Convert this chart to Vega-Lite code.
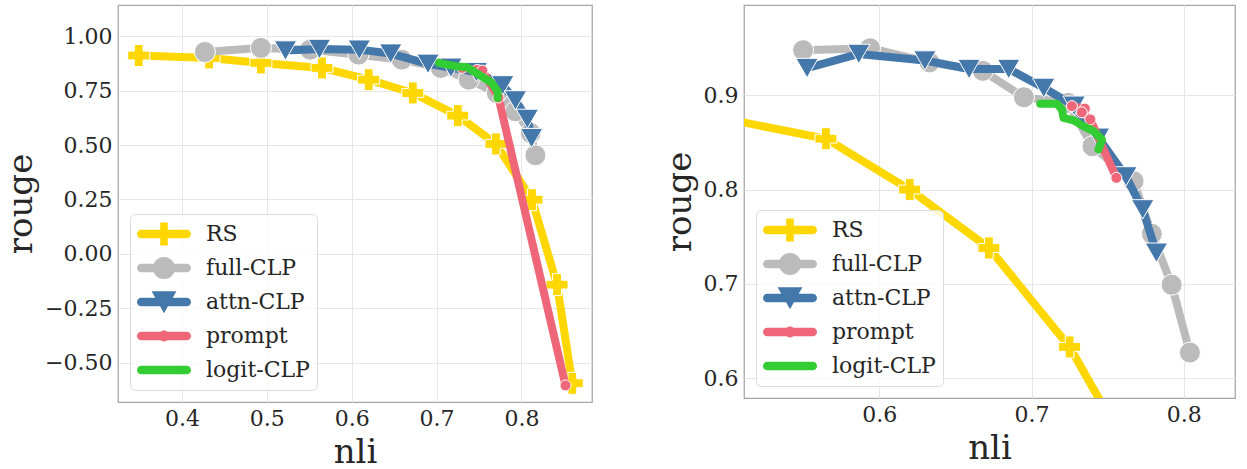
{
  "$schema": "https://vega.github.io/schema/vega-lite/v6.json",
  "padding": {"left": 3, "top": 4, "right": 5, "bottom": 0},
  "spacing": 69,
  "config": {
    "font": "DejaVu Serif",
    "view": {"stroke": "#a6a6a6", "strokeWidth": 1.25},
    "axis": {"grid": true, "gridColor": "#e6e6e6", "gridWidth": 1, "domain": false, "ticks": false, "labelFont": "DejaVu Serif", "labelFontSize": 22, "labelColor": "#262626", "titleFont": "DejaVu Serif", "titleFontSize": 34, "titleFontWeight": "normal", "titleColor": "#262626", "labelPadding": 6, "titlePadding": 6},
    "legend": {"labelFont": "DejaVu Serif", "labelFontSize": 22, "labelColor": "#262626", "padding": 7, "rowPadding": 8, "clipHeight": 26, "symbolSize": 2916, "labelOffset": 15, "fillColor": "rgba(255,255,255,0.8)", "strokeColor": "#dcdcdc", "cornerRadius": 5, "orient": "bottom-left", "offset": 12, "symbolStrokeWidth": 0}
  },
  "resolve": {"scale": {"color": "independent"}, "legend": {"color": "independent"}},
  "hconcat": [
    {
      "width": 474,
      "height": 397,
      "data": {"values": [
        {"series": "RS", "i": 1, "nli": 0.349, "rouge": 0.911},
        {"series": "RS", "i": 2, "nli": 0.432, "rouge": 0.900},
        {"series": "RS", "i": 3, "nli": 0.493, "rouge": 0.877},
        {"series": "RS", "i": 4, "nli": 0.565, "rouge": 0.854},
        {"series": "RS", "i": 5, "nli": 0.620, "rouge": 0.800},
        {"series": "RS", "i": 6, "nli": 0.672, "rouge": 0.739},
        {"series": "RS", "i": 7, "nli": 0.725, "rouge": 0.635},
        {"series": "RS", "i": 8, "nli": 0.770, "rouge": 0.505},
        {"series": "RS", "i": 9, "nli": 0.8125, "rouge": 0.249},
        {"series": "RS", "i": 10, "nli": 0.842, "rouge": -0.141},
        {"series": "RS", "i": 11, "nli": 0.860, "rouge": -0.594},
        {"series": "full-CLP", "i": 1, "nli": 0.427, "rouge": 0.927},
        {"series": "full-CLP", "i": 2, "nli": 0.493, "rouge": 0.946},
        {"series": "full-CLP", "i": 3, "nli": 0.551, "rouge": 0.938},
        {"series": "full-CLP", "i": 4, "nli": 0.608, "rouge": 0.915},
        {"series": "full-CLP", "i": 5, "nli": 0.659, "rouge": 0.892},
        {"series": "full-CLP", "i": 6, "nli": 0.705, "rouge": 0.854},
        {"series": "full-CLP", "i": 7, "nli": 0.738, "rouge": 0.800},
        {"series": "full-CLP", "i": 8, "nli": 0.771, "rouge": 0.739},
        {"series": "full-CLP", "i": 9, "nli": 0.793, "rouge": 0.655},
        {"series": "full-CLP", "i": 10, "nli": 0.811, "rouge": 0.555},
        {"series": "full-CLP", "i": 11, "nli": 0.8165, "rouge": 0.453},
        {"series": "attn-CLP", "i": 1, "nli": 0.522, "rouge": 0.934},
        {"series": "attn-CLP", "i": 2, "nli": 0.562, "rouge": 0.941},
        {"series": "attn-CLP", "i": 3, "nli": 0.609, "rouge": 0.938},
        {"series": "attn-CLP", "i": 4, "nli": 0.646, "rouge": 0.920},
        {"series": "attn-CLP", "i": 5, "nli": 0.690, "rouge": 0.873},
        {"series": "attn-CLP", "i": 6, "nli": 0.717, "rouge": 0.855},
        {"series": "attn-CLP", "i": 7, "nli": 0.747, "rouge": 0.835},
        {"series": "attn-CLP", "i": 8, "nli": 0.778, "rouge": 0.774},
        {"series": "attn-CLP", "i": 9, "nli": 0.793, "rouge": 0.705},
        {"series": "attn-CLP", "i": 10, "nli": 0.807, "rouge": 0.620},
        {"series": "attn-CLP", "i": 11, "nli": 0.812, "rouge": 0.532},
        {"series": "prompt", "i": 1, "nli": 0.730, "rouge": 0.854},
        {"series": "prompt", "i": 2, "nli": 0.748, "rouge": 0.845},
        {"series": "prompt", "i": 3, "nli": 0.754, "rouge": 0.842},
        {"series": "prompt", "i": 4, "nli": 0.773, "rouge": 0.718},
        {"series": "prompt", "i": 5, "nli": 0.852, "rouge": -0.604},
        {"series": "logit-CLP", "i": 1, "nli": 0.703, "rouge": 0.877},
        {"series": "logit-CLP", "i": 2, "nli": 0.714, "rouge": 0.868},
        {"series": "logit-CLP", "i": 3, "nli": 0.722, "rouge": 0.862},
        {"series": "logit-CLP", "i": 4, "nli": 0.736, "rouge": 0.857},
        {"series": "logit-CLP", "i": 5, "nli": 0.750, "rouge": 0.823},
        {"series": "logit-CLP", "i": 6, "nli": 0.765, "rouge": 0.785},
        {"series": "logit-CLP", "i": 7, "nli": 0.772, "rouge": 0.747},
        {"series": "logit-CLP", "i": 8, "nli": 0.772, "rouge": 0.716}
      ]},
      "encoding": {
        "x": {"field": "nli", "type": "quantitative", "scale": {"domain": [0.3246, 0.8832], "nice": false, "zero": false}, "axis": {"values": [0.4, 0.5, 0.6, 0.7, 0.8], "format": ".1f", "title": "nli"}},
        "y": {"field": "rouge", "type": "quantitative", "scale": {"domain": [-0.68, 1.143], "nice": false, "zero": false}, "axis": {"values": [-0.5, -0.25, 0, 0.25, 0.5, 0.75, 1], "format": ".2f", "title": "rouge"}},
        "color": {"field": "series", "type": "nominal", "scale": {"domain": ["RS", "full-CLP", "attn-CLP", "prompt", "logit-CLP"], "range": ["#FFD700", "#BBBBBB", "#4477AA", "#EE6677", "#32CD32"]}, "legend": null},
        "order": {"field": "i", "type": "quantitative"}
      },
      "layer": [
        {"transform": [{"filter": "datum.series === 'RS'"}], "mark": {"type": "line", "strokeWidth": 8, "strokeCap": "round", "strokeJoin": "round", "clip": true},
         "encoding": {"color": {"field": "series", "type": "nominal", "scale": {"domain": ["RS", "full-CLP", "attn-CLP", "prompt", "logit-CLP"], "range": ["#FFD700", "#BBBBBB", "#4477AA", "#EE6677", "#32CD32"]},
           "legend": {"title": null, "encode": {"symbols": {"update": {
             "shape": {"signal": "datum.value === 'RS' ? 'M-0.84,-0.16H0.84A0.16,0.16 0 0,1 0.84,0.16H-0.84A0.16,0.16 0 0,1 -0.84,-0.16Z M-0.14,-0.43H0.14V-0.14H0.43V0.14H0.14V0.43H-0.14V0.14H-0.43V-0.14H-0.14Z' : datum.value === 'full-CLP' ? 'M-0.84,-0.16H0.84A0.16,0.16 0 0,1 0.84,0.16H-0.84A0.16,0.16 0 0,1 -0.84,-0.16Z M-0.41,0A0.41,0.41 0 1,1 0.41,0A0.41,0.41 0 1,1 -0.41,0Z' : datum.value === 'attn-CLP' ? 'M-0.84,-0.16H0.84A0.16,0.16 0 0,1 0.84,0.16H-0.84A0.16,0.16 0 0,1 -0.84,-0.16Z M-0.46,-0.4H0.46L0,0.42Z' : datum.value === 'prompt' ? 'M-0.84,-0.16H0.84A0.16,0.16 0 0,1 0.84,0.16H-0.84A0.16,0.16 0 0,1 -0.84,-0.16Z M-0.2,0A0.2,0.2 0 1,1 0.2,0A0.2,0.2 0 1,1 -0.2,0Z' : 'M-0.84,-0.16H0.84A0.16,0.16 0 0,1 0.84,0.16H-0.84A0.16,0.16 0 0,1 -0.84,-0.16Z'"},
             "fill": {"signal": "datum.value === 'RS' ? '#FFD700' : datum.value === 'full-CLP' ? '#BBBBBB' : datum.value === 'attn-CLP' ? '#4477AA' : datum.value === 'prompt' ? '#EE6677' : '#32CD32'"},
             "fillOpacity": {"value": 1},
             "opacity": {"value": 1},
             "stroke": {"value": "transparent"},
             "strokeWidth": {"value": 0}
           }}}}}}},
        {"transform": [{"filter": "datum.series === 'RS'"}], "mark": {"type": "point", "shape": "cross", "size": 484, "filled": true, "opacity": 1, "stroke": "white", "strokeWidth": 1, "clip": true}},
        {"transform": [{"filter": "datum.series === 'full-CLP'"}], "mark": {"type": "line", "strokeWidth": 8, "strokeCap": "round", "strokeJoin": "round", "clip": true}},
        {"transform": [{"filter": "datum.series === 'full-CLP'"}], "mark": {"type": "point", "shape": "circle", "size": 441, "filled": true, "opacity": 1, "stroke": "white", "strokeWidth": 1, "clip": true}},
        {"transform": [{"filter": "datum.series === 'attn-CLP'"}], "mark": {"type": "line", "strokeWidth": 8, "strokeCap": "round", "strokeJoin": "round", "clip": true}},
        {"transform": [{"filter": "datum.series === 'attn-CLP'"}], "mark": {"type": "point", "shape": "triangle-down", "size": 500, "filled": true, "opacity": 1, "stroke": "white", "strokeWidth": 1, "clip": true}},
        {"transform": [{"filter": "datum.series === 'prompt'"}], "mark": {"type": "line", "strokeWidth": 8, "strokeCap": "round", "strokeJoin": "round", "clip": true}},
        {"transform": [{"filter": "datum.series === 'prompt'"}], "mark": {"type": "point", "shape": "circle", "size": 121, "filled": true, "opacity": 1, "stroke": "white", "strokeWidth": 1, "clip": true}},
        {"transform": [{"filter": "datum.series === 'logit-CLP'"}], "mark": {"type": "line", "strokeWidth": 8, "strokeCap": "round", "strokeJoin": "round", "clip": true}}
      ]
    },
    {
      "width": 491,
      "height": 393,
      "data": {"values": [
        {"series": "RS", "i": 3, "nli": 0.493, "rouge": 0.877},
        {"series": "RS", "i": 4, "nli": 0.565, "rouge": 0.854},
        {"series": "RS", "i": 5, "nli": 0.620, "rouge": 0.800},
        {"series": "RS", "i": 6, "nli": 0.672, "rouge": 0.738},
        {"series": "RS", "i": 7, "nli": 0.725, "rouge": 0.633},
        {"series": "RS", "i": 8, "nli": 0.770, "rouge": 0.505},
        {"series": "full-CLP", "i": 1, "nli": 0.550, "rouge": 0.948},
        {"series": "full-CLP", "i": 2, "nli": 0.594, "rouge": 0.950},
        {"series": "full-CLP", "i": 3, "nli": 0.633, "rouge": 0.935},
        {"series": "full-CLP", "i": 4, "nli": 0.668, "rouge": 0.926},
        {"series": "full-CLP", "i": 5, "nli": 0.695, "rouge": 0.898},
        {"series": "full-CLP", "i": 6, "nli": 0.724, "rouge": 0.892},
        {"series": "full-CLP", "i": 7, "nli": 0.740, "rouge": 0.846},
        {"series": "full-CLP", "i": 8, "nli": 0.767, "rouge": 0.809},
        {"series": "full-CLP", "i": 9, "nli": 0.779, "rouge": 0.753},
        {"series": "full-CLP", "i": 10, "nli": 0.792, "rouge": 0.699},
        {"series": "full-CLP", "i": 11, "nli": 0.804, "rouge": 0.627},
        {"series": "attn-CLP", "i": 1, "nli": 0.5526, "rouge": 0.929},
        {"series": "attn-CLP", "i": 2, "nli": 0.5866, "rouge": 0.944},
        {"series": "attn-CLP", "i": 3, "nli": 0.630, "rouge": 0.937},
        {"series": "attn-CLP", "i": 4, "nli": 0.659, "rouge": 0.928},
        {"series": "attn-CLP", "i": 5, "nli": 0.685, "rouge": 0.928},
        {"series": "attn-CLP", "i": 6, "nli": 0.708, "rouge": 0.908},
        {"series": "attn-CLP", "i": 7, "nli": 0.728, "rouge": 0.889},
        {"series": "attn-CLP", "i": 8, "nli": 0.744, "rouge": 0.855},
        {"series": "attn-CLP", "i": 9, "nli": 0.762, "rouge": 0.814},
        {"series": "attn-CLP", "i": 10, "nli": 0.773, "rouge": 0.779},
        {"series": "attn-CLP", "i": 11, "nli": 0.782, "rouge": 0.733},
        {"series": "prompt", "i": 1, "nli": 0.7265, "rouge": 0.8886},
        {"series": "prompt", "i": 2, "nli": 0.735, "rouge": 0.886},
        {"series": "prompt", "i": 3, "nli": 0.733, "rouge": 0.882},
        {"series": "prompt", "i": 4, "nli": 0.7386, "rouge": 0.8745},
        {"series": "prompt", "i": 5, "nli": 0.7557, "rouge": 0.8125},
        {"series": "logit-CLP", "i": 1, "nli": 0.7057, "rouge": 0.891},
        {"series": "logit-CLP", "i": 2, "nli": 0.7167, "rouge": 0.891},
        {"series": "logit-CLP", "i": 3, "nli": 0.720, "rouge": 0.885},
        {"series": "logit-CLP", "i": 4, "nli": 0.721, "rouge": 0.876},
        {"series": "logit-CLP", "i": 5, "nli": 0.7276, "rouge": 0.8735},
        {"series": "logit-CLP", "i": 6, "nli": 0.734, "rouge": 0.8674},
        {"series": "logit-CLP", "i": 7, "nli": 0.7408, "rouge": 0.862},
        {"series": "logit-CLP", "i": 8, "nli": 0.7463, "rouge": 0.853},
        {"series": "logit-CLP", "i": 9, "nli": 0.744, "rouge": 0.8427}
      ]},
      "encoding": {
        "x": {"field": "nli", "type": "quantitative", "scale": {"domain": [0.5112, 0.8336], "nice": false, "zero": false}, "axis": {"values": [0.6, 0.7, 0.8], "format": ".1f", "title": "nli"}},
        "y": {"field": "rouge", "type": "quantitative", "scale": {"domain": [0.5788, 0.9959], "nice": false, "zero": false}, "axis": {"values": [0.6, 0.7, 0.8, 0.9], "format": ".1f", "title": "rouge"}},
        "color": {"field": "series", "type": "nominal", "scale": {"domain": ["RS", "full-CLP", "attn-CLP", "prompt", "logit-CLP"], "range": ["#FFD700", "#BBBBBB", "#4477AA", "#EE6677", "#32CD32"]}, "legend": null},
        "order": {"field": "i", "type": "quantitative"}
      },
      "layer": [
        {"transform": [{"filter": "datum.series === 'RS'"}], "mark": {"type": "line", "strokeWidth": 8, "strokeCap": "round", "strokeJoin": "round", "clip": true},
         "encoding": {"color": {"field": "series", "type": "nominal", "scale": {"domain": ["RS", "full-CLP", "attn-CLP", "prompt", "logit-CLP"], "range": ["#FFD700", "#BBBBBB", "#4477AA", "#EE6677", "#32CD32"]},
           "legend": {"title": null, "encode": {"symbols": {"update": {
             "shape": {"signal": "datum.value === 'RS' ? 'M-0.84,-0.16H0.84A0.16,0.16 0 0,1 0.84,0.16H-0.84A0.16,0.16 0 0,1 -0.84,-0.16Z M-0.14,-0.43H0.14V-0.14H0.43V0.14H0.14V0.43H-0.14V0.14H-0.43V-0.14H-0.14Z' : datum.value === 'full-CLP' ? 'M-0.84,-0.16H0.84A0.16,0.16 0 0,1 0.84,0.16H-0.84A0.16,0.16 0 0,1 -0.84,-0.16Z M-0.41,0A0.41,0.41 0 1,1 0.41,0A0.41,0.41 0 1,1 -0.41,0Z' : datum.value === 'attn-CLP' ? 'M-0.84,-0.16H0.84A0.16,0.16 0 0,1 0.84,0.16H-0.84A0.16,0.16 0 0,1 -0.84,-0.16Z M-0.46,-0.4H0.46L0,0.42Z' : datum.value === 'prompt' ? 'M-0.84,-0.16H0.84A0.16,0.16 0 0,1 0.84,0.16H-0.84A0.16,0.16 0 0,1 -0.84,-0.16Z M-0.2,0A0.2,0.2 0 1,1 0.2,0A0.2,0.2 0 1,1 -0.2,0Z' : 'M-0.84,-0.16H0.84A0.16,0.16 0 0,1 0.84,0.16H-0.84A0.16,0.16 0 0,1 -0.84,-0.16Z'"},
             "fill": {"signal": "datum.value === 'RS' ? '#FFD700' : datum.value === 'full-CLP' ? '#BBBBBB' : datum.value === 'attn-CLP' ? '#4477AA' : datum.value === 'prompt' ? '#EE6677' : '#32CD32'"},
             "fillOpacity": {"value": 1},
             "opacity": {"value": 1},
             "stroke": {"value": "transparent"},
             "strokeWidth": {"value": 0}
           }}}}}}},
        {"transform": [{"filter": "datum.series === 'RS'"}], "mark": {"type": "point", "shape": "cross", "size": 484, "filled": true, "opacity": 1, "stroke": "white", "strokeWidth": 1, "clip": true}},
        {"transform": [{"filter": "datum.series === 'full-CLP'"}], "mark": {"type": "line", "strokeWidth": 8, "strokeCap": "round", "strokeJoin": "round", "clip": true}},
        {"transform": [{"filter": "datum.series === 'full-CLP'"}], "mark": {"type": "point", "shape": "circle", "size": 441, "filled": true, "opacity": 1, "stroke": "white", "strokeWidth": 1, "clip": true}},
        {"transform": [{"filter": "datum.series === 'attn-CLP'"}], "mark": {"type": "line", "strokeWidth": 8, "strokeCap": "round", "strokeJoin": "round", "clip": true}},
        {"transform": [{"filter": "datum.series === 'attn-CLP'"}], "mark": {"type": "point", "shape": "triangle-down", "size": 500, "filled": true, "opacity": 1, "stroke": "white", "strokeWidth": 1, "clip": true}},
        {"transform": [{"filter": "datum.series === 'prompt'"}], "mark": {"type": "line", "strokeWidth": 8, "strokeCap": "round", "strokeJoin": "round", "clip": true}},
        {"transform": [{"filter": "datum.series === 'prompt'"}], "mark": {"type": "point", "shape": "circle", "size": 121, "filled": true, "opacity": 1, "stroke": "white", "strokeWidth": 1, "clip": true}},
        {"transform": [{"filter": "datum.series === 'logit-CLP'"}], "mark": {"type": "line", "strokeWidth": 8, "strokeCap": "round", "strokeJoin": "round", "clip": true}}
      ]
    }
  ]
}
